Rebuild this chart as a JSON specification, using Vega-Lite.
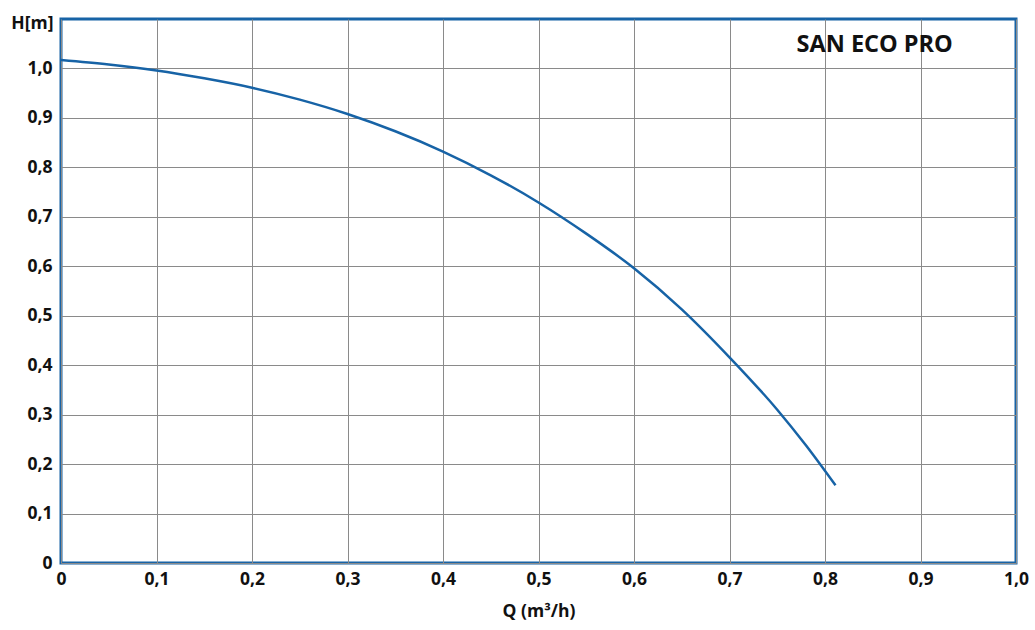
{
  "$schema": "https://vega.github.io/schema/vega-lite/v6.json",
  "width": 955,
  "height": 544,
  "autosize": {"type": "none"},
  "padding": {"left": 61, "top": 19, "right": 19, "bottom": 67},
  "background": "white",
  "config": {
    "view": {"stroke": "#1763a6", "strokeWidth": 3},
    "font": "Open Sans"
  },
  "layer": [
    {
      "data": {"values": [
        {"q": 0.0, "h": 1.017},
        {"q": 0.05, "h": 1.008},
        {"q": 0.1, "h": 0.996},
        {"q": 0.15, "h": 0.98},
        {"q": 0.2, "h": 0.961},
        {"q": 0.25, "h": 0.937},
        {"q": 0.3, "h": 0.908},
        {"q": 0.35, "h": 0.873},
        {"q": 0.4, "h": 0.832},
        {"q": 0.45, "h": 0.784},
        {"q": 0.5, "h": 0.729},
        {"q": 0.55, "h": 0.666},
        {"q": 0.6, "h": 0.596},
        {"q": 0.65, "h": 0.513},
        {"q": 0.7, "h": 0.416},
        {"q": 0.75, "h": 0.31},
        {"q": 0.78, "h": 0.238},
        {"q": 0.811, "h": 0.157}
      ]},
      "mark": {"type": "line", "color": "#1763a6", "strokeWidth": 2.5, "interpolate": "monotone", "clip": true},
      "encoding": {
        "x": {
          "field": "q", "type": "quantitative",
          "scale": {"domain": [0, 1], "nice": false, "zero": true},
          "axis": {
            "values": [0, 0.1, 0.2, 0.3, 0.4, 0.5, 0.6, 0.7, 0.8, 0.9, 1.0],
            "labelExpr": "datum.value == 0 ? '0' : replace(format(datum.value, '.1f'), '.', ',')",
            "title": "Q (m³/h)",
            "titleFont": "Open Sans", "titleFontSize": 17.5, "titleFontWeight": "bold", "titleColor": "#111",
            "titlePadding": 15,
            "labelFont": "Open Sans", "labelFontSize": 17.5, "labelFontWeight": "bold", "labelColor": "#111",
            "labelPadding": 7, "labelFlush": false, "labelOverlap": false,
            "domain": false, "ticks": false,
            "grid": true, "gridColor": "#8a8a8a", "gridWidth": 1, "gridOpacity": 1
          }
        },
        "y": {
          "field": "h", "type": "quantitative",
          "scale": {"domain": [0, 1.1], "nice": false, "zero": true},
          "axis": {
            "values": [0, 0.1, 0.2, 0.3, 0.4, 0.5, 0.6, 0.7, 0.8, 0.9, 1.0],
            "labelExpr": "datum.value == 0 ? '0' : replace(format(datum.value, '.1f'), '.', ',')",
            "title": "H[m]",
            "titleAngle": 0, "titleAlign": "right", "titleBaseline": "middle",
            "titleX": -8, "titleY": 4,
            "titleFont": "Open Sans", "titleFontSize": 17.5, "titleFontWeight": "bold", "titleColor": "#111",
            "labelFont": "Open Sans", "labelFontSize": 17.5, "labelFontWeight": "bold", "labelColor": "#111",
            "labelPadding": 9, "labelOverlap": false, "labelFlush": false,
            "domain": false, "ticks": false,
            "grid": true, "gridColor": "#8a8a8a", "gridWidth": 1, "gridOpacity": 1
          }
        }
      }
    },
    {
      "data": {"values": [{"label": "SAN ECO PRO", "q": 0.852, "h": 1.048}]},
      "mark": {"type": "text", "font": "Open Sans", "fontSize": 23.5, "fontWeight": "bold", "color": "#111", "align": "center", "baseline": "middle"},
      "encoding": {
        "x": {"field": "q", "type": "quantitative"},
        "y": {"field": "h", "type": "quantitative"},
        "text": {"field": "label"}
      }
    }
  ]
}
